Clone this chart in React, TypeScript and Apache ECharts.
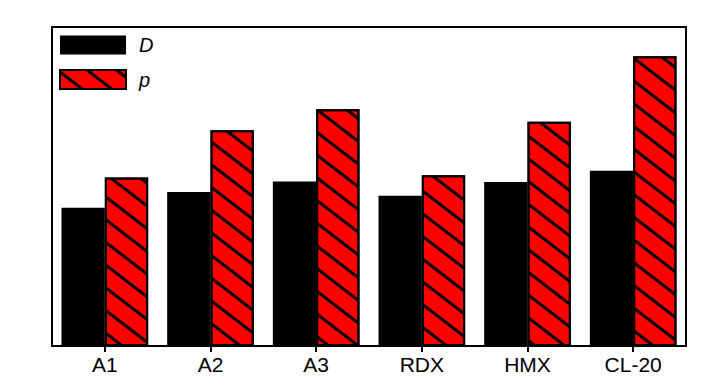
import React, { useEffect, useRef } from "react";
import * as echarts from "echarts";

const categories = ["A1", "A2", "A3", "RDX", "HMX", "CL-20"];
const seriesD = [43.3, 48.3, 51.6, 47.1, 51.4, 54.9];
const seriesP = [52.8, 67.6, 74.2, 53.5, 70.3, 90.8];
const seriesNames = ["D", "p"];

export default function App() {
  const ref = useRef<HTMLDivElement>(null);
  useEffect(() => {
    if (!ref.current) return;
    const chart = echarts.init(ref.current, null, { renderer: "svg" });
    chart.setOption({
      animation: false,
      backgroundColor: "#fff",
      grid: {
        left: 52,
        right: 40,
        top: 27,
        bottom: 44,
        show: true,
        borderColor: "#000",
        borderWidth: 2,
        backgroundColor: "transparent",
      },
      legend: {
        orient: "vertical",
        left: 54,
        top: 30,
        itemWidth: 66,
        itemHeight: 19,
        itemGap: 14,
        icon: "rect",
        textStyle: {
          fontFamily: "Liberation Sans",
          fontStyle: "italic",
          fontSize: 20,
          color: "#000",
          padding: [0, 0, 0, 8],
        },
        data: seriesNames,
      },
      xAxis: {
        type: "category",
        data: categories,
        boundaryGap: true,
        axisLine: { show: true, lineStyle: { color: "#000", width: 2 } },
        axisTick: {
          show: true,
          alignWithLabel: true,
          length: 6,
          lineStyle: { color: "#000", width: 2 },
        },
        axisLabel: {
          color: "#000",
          fontFamily: "Liberation Sans",
          fontSize: 21,
          margin: 8,
        },
        splitLine: { show: false },
      },
      yAxis: {
        type: "value",
        min: 0,
        max: 100,
        axisLine: { show: true, lineStyle: { color: "#000", width: 2 } },
        axisTick: { show: false },
        axisLabel: { show: false },
        splitLine: { show: false },
      },
      series: [
        {
          name: seriesNames[0],
          type: "bar",
          data: seriesD,
          barGap: "0%",
          barCategoryGap: "18%",
          itemStyle: { color: "#000" },
        },
        {
          name: seriesNames[1],
          type: "bar",
          data: seriesP,
          barGap: "0%",
          barCategoryGap: "18%",
          itemStyle: {
            color: "#ff0000",
            borderColor: "#000",
            borderWidth: 2,
            decal: {
              symbol: "rect",
              dashArrayX: [1, 0],
              dashArrayY: [2.5, 14.5],
              rotation: 0.656,
              color: "#000",
            },
          },
        },
      ],
    });
    return () => chart.dispose();
  }, []);
  return (
    <div
      ref={ref}
      style={{ position: "fixed", left: 0, top: 0, width: 726, height: 390 }}
    />
  );
}
